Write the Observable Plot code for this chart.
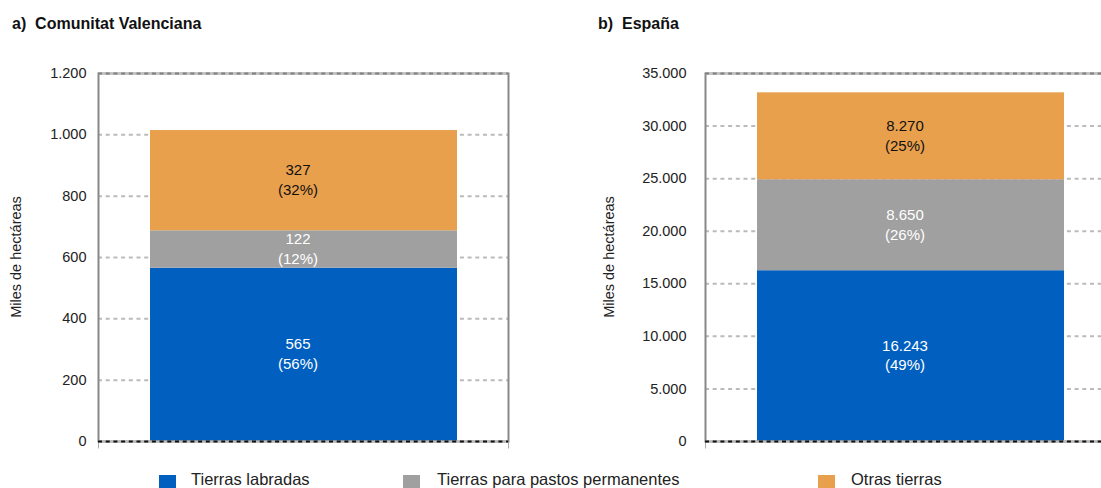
<!DOCTYPE html>
<html>
<head>
<meta charset="utf-8">
<script src="https://cdn.jsdelivr.net/npm/d3@7"></script>
<script src="https://cdn.jsdelivr.net/npm/@observablehq/plot@0.6"></script>
<style>
  html, body { margin: 0; padding: 0; background: #fff; }
  #wrap { position: relative; width: 1101px; height: 488px; overflow: hidden; font-family: "Liberation Sans", Arial, sans-serif; color: #111; }
  .panel { position: absolute; top: 0; }
  .title { position: absolute; font-weight: bold; font-size: 16px; line-height: 16px; white-space: pre; color: #111; }
  .ylab { position: absolute; font-size: 14.5px; line-height: 15px; white-space: nowrap; color: #222; transform: translate(-50%, -50%) rotate(-90deg); }
  .leg { position: absolute; font-size: 16.5px; line-height: 16.5px; white-space: nowrap; color: #222; }
  .sw { position: absolute; width: 17px; height: 17px; }
</style>
</head>
<body>
<div id="wrap"></div>
<script>
// ---- Data ----
const categories = ["Tierras labradas", "Tierras para pastos permanentes", "Otras tierras"];
const colors = ["#005FBF", "#A0A0A0", "#E8A04D"];
const valuesCV = [565, 122, 327];
const pctCV = [56, 12, 32];
const valuesES = [16243, 8650, 8270];
const pctES = [49, 26, 25];
const ticksCV = [0, 200, 400, 600, 800, 1000, 1200];
const ticksES = [0, 5000, 10000, 15000, 20000, 25000, 30000, 35000];
const titles = ["a)  Comunitat Valenciana", "b)  España"];
const yLabel = "Miles de hectáreas";

const loc = d3.formatLocale({decimal: ",", thousands: ".", grouping: [3], currency: ["", " €"]});
const fmt = loc.format(",");

const wrap = document.getElementById("wrap");

function panel(values, pcts, ticks, left, width, marginLeft, tickPadding) {
  const rows = categories.map((c, i) => ({region: "r", cat: c, idx: i, value: values[i], pct: pcts[i]}));
  const maxY = ticks[ticks.length - 1];
  const marginTop = 73, marginBottom = 47, W = 410, H = 488 - marginTop - marginBottom;
  const marginRight = width - marginLeft - W;
  const svg = Plot.plot({
    width, height: 488,
    marginLeft, marginRight, marginTop, marginBottom,
    style: {fontFamily: "Liberation Sans, Arial, sans-serif", fontSize: "14.5px", color: "#222", background: "transparent", overflow: "visible"},
    x: {domain: ["r"], padding: 0.143, axis: null},
    y: {domain: [0, maxY]},
    color: {domain: categories, range: colors},
    marks: [
      Plot.gridY(ticks.filter(t => t > 0 && t < maxY), {stroke: "#bbb", strokeOpacity: 1, strokeWidth: 2, strokeDasharray: "4,3.7"}),
      Plot.frame({stroke: "#aaa", strokeWidth: 1, insetBottom: -7, strokeDasharray: `0 ${W} ${H + 7} ${W} ${H + 7}`}),
      Plot.barY(rows, Plot.stackY({x: "region", y: "value", fill: "cat"})),
      Plot.frame({stroke: "#888", strokeWidth: 2}),
      Plot.ruleY([maxY], {stroke: "#c4c4c4", strokeWidth: 2}),
      Plot.ruleY([maxY], {stroke: "#808080", strokeWidth: 2, strokeDasharray: "4,3.7"}),
      Plot.ruleY([0], {stroke: "#bbb", strokeWidth: 2}),
      Plot.ruleY([0], {stroke: "#111", strokeWidth: 2, strokeDasharray: "4,3.7"}),
      Plot.axisY({ticks, tickSize: 0, tickPadding, tickFormat: fmt, label: null, fill: "#222"}),
      Plot.text(rows, Plot.stackY({
        x: "region", y: "value", z: "cat",
        text: d => `${fmt(d.value)}\n(${d.pct}%)`,
        fill: d => d.idx === 2 ? "#111" : "#ffffff",
        fontSize: 15, lineHeight: 1.33, dx: -6, dy: -2
      }))
    ]
  });
  svg.classList.add("panel");
  svg.style.left = left + "px";
  wrap.appendChild(svg);
}

panel(valuesCV, pctCV, ticksCV, 0, 550, 98, 12);
panel(valuesES, pctES, ticksES, 600, 600, 105, 19);

// titles
[[titles[0], 12], [titles[1], 598]].forEach(([t, x]) => {
  const d = document.createElement("div");
  d.className = "title"; d.textContent = t;
  d.style.left = x + "px"; d.style.top = "16px";
  wrap.appendChild(d);
});
// y labels
[16, 609].forEach(x => {
  const d = document.createElement("div");
  d.className = "ylab"; d.textContent = yLabel;
  d.style.left = x + "px"; d.style.top = "257px";
  wrap.appendChild(d);
});
// legend
const legPos = [[159, 191], [403, 437], [818, 851]];
categories.forEach((c, i) => {
  const s = document.createElement("div");
  s.className = "sw"; s.style.background = colors[i];
  s.style.left = legPos[i][0] + "px"; s.style.top = "475px";
  wrap.appendChild(s);
  const t = document.createElement("div");
  t.className = "leg"; t.textContent = c;
  t.style.left = legPos[i][1] + "px"; t.style.top = "471px";
  wrap.appendChild(t);
});
</script>
</body>
</html>
